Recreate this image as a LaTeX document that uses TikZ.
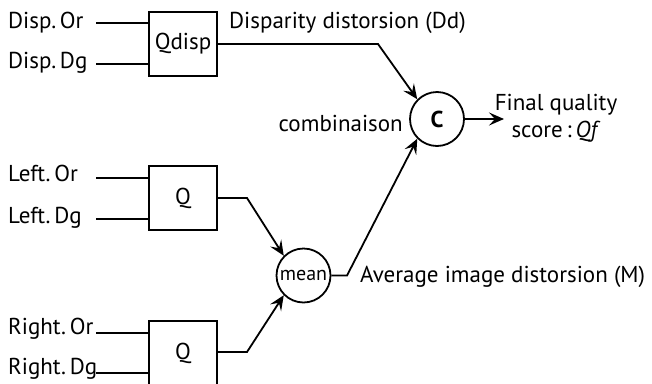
\documentclass[tikz,border=0pt]{standalone}
\usepackage{fontspec}
\setmainfont{PT Sans}
\usetikzlibrary{arrows.meta}
\begin{document}
\begin{tikzpicture}[x=1pt,y=-1pt,
  every node/.style={font=\fontsize{23}{26}\selectfont, inner sep=0pt},
  blk/.style={draw, line width=1.8pt, minimum width=68pt, minimum height=64pt},
  rnd/.style={draw, circle, line width=1.8pt, minimum size=54pt},
  wire/.style={line width=1.8pt},
  arr/.style={line width=1.8pt, -{Stealth[length=15pt,width=13pt,inset=6pt]}}]
\useasboundingbox (0,0) rectangle (652,383);
% labels
\node[anchor=base west] (dor) at (8,28) {Disp.\,Or};
\node[anchor=base west] (ddg) at (8,68) {Disp.\,Dg};
\node[anchor=base west] (lor) at (8,181) {Left.\,Or};
\node[anchor=base west] (ldg) at (8,223) {Left.\,Dg};
\node[anchor=base west] (ror) at (8,334) {Right.\,Or};
\node[anchor=base west] (rdg) at (8,374) {Right.\,Dg};
% blocks
\node[blk] (qd) at (183,44) {Qdisp};
\node[blk] (ql) at (183,198) {Q};
\node[blk] (qr) at (183,353) {Q};
\node[rnd] (c) at (437,119) {\textbf{C}};
\node[rnd, font=\fontsize{20}{22}\selectfont] (m) at (303.5,275.5) {mean};
% text labels
\node[anchor=base west] (dd) at (229,28) {Disparity distorsion (Dd)};
\node[anchor=base east] (comb) at (403,131) {combinaison};
\node[align=center, anchor=base] (fq) at (556,137) {Final quality\\[1pt]score\,:\,\textit{Qf}};
\node[anchor=base west] (avg) at (360,282) {Average image distorsion (M)};
% input wire starts
\coordinate (a1) at (96,23);
\coordinate (a2) at (96,64);
\coordinate (a3) at (96,178);
\coordinate (a4) at (96,219);
\coordinate (a5) at (96,333);
\coordinate (a6) at (96,373);
\draw[wire] (a1) -- (a1 -| qd.west);
\draw[wire] (a2) -- (a2 -| qd.west);
\draw[wire] (a3) -- (a3 -| ql.west);
\draw[wire] (a4) -- (a4 -| ql.west);
\draw[wire] (a5) -- (a5 -| qr.west);
\draw[wire] (a6) -- (a6 -| qr.west);
% bends
\coordinate (b1) at (378,44);
\coordinate (b2) at (247,198);
\coordinate (b3) at (247,352);
\coordinate (b4) at (347,275.5);
\draw[arr] (qd.east |- b1) -- (b1) -- (c.north west);
\draw[arr] (ql.east |- b2) -- (b2) -- (m.north west);
\draw[arr] (qr.east |- b3) -- (b3) -- (m.south west);
\draw[arr] (m.east) -- (b4) -- (c.south west);
\draw[arr] (c.east) -- (504,119) coordinate (out);
\end{tikzpicture}
\end{document}
